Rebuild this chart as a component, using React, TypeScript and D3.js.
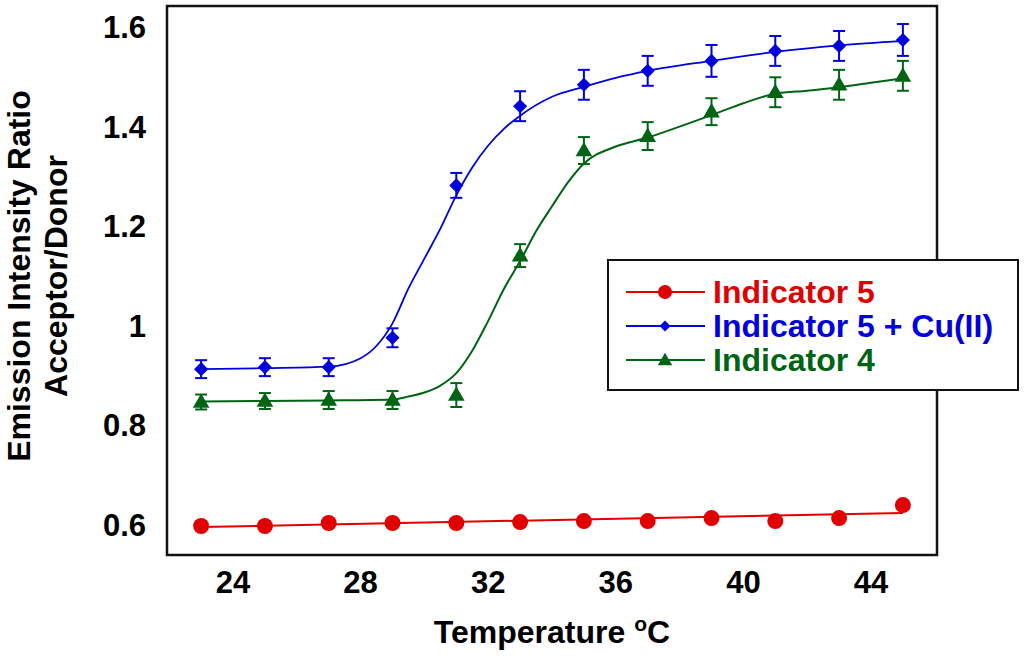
import { useEffect, useRef } from 'react';
import * as d3 from 'd3';

// measured data (temperature in °C, emission intensity ratio acceptor/donor)
const temps = [23, 25, 27, 29, 31, 33, 35, 37, 39, 41, 43, 45];
const ind5 = [0.598, 0.598, 0.604, 0.604, 0.604, 0.606, 0.608, 0.608, 0.614, 0.608, 0.614, 0.64];
const ind5Cu = [0.913, 0.917, 0.917, 0.976, 1.282, 1.441, 1.484, 1.512, 1.532, 1.552, 1.562, 1.574];
const ind5CuErr = [0.018, 0.018, 0.018, 0.019, 0.025, 0.03, 0.03, 0.03, 0.032, 0.03, 0.03, 0.032];
const ind4 = [0.847, 0.849, 0.851, 0.851, 0.861, 1.141, 1.352, 1.381, 1.43, 1.469, 1.484, 1.502];
const ind4Err = [0.015, 0.016, 0.018, 0.018, 0.024, 0.023, 0.027, 0.028, 0.027, 0.03, 0.03, 0.03];

// fitted curves
const fit5X = [23, 45];
const fit5Y = [0.596, 0.624];
const fit5CuX = [23, 25, 27, 28, 28.5, 29, 29.5, 30, 30.5, 31, 31.5, 32, 32.5, 33, 34, 35, 36, 37, 39, 41, 43, 45];
const fit5CuY = [0.913, 0.915, 0.918, 0.935, 0.96, 1.005, 1.075, 1.135, 1.195, 1.262, 1.318, 1.362, 1.396, 1.422, 1.46, 1.48, 1.498, 1.512, 1.532, 1.55, 1.563, 1.572];
const fit4X = [23, 25, 27, 29, 29.5, 30, 30.5, 31, 31.5, 32, 32.5, 33, 33.5, 34, 34.5, 35, 36, 37, 38, 39, 40, 41, 42, 43, 44, 45];
const fit4Y = [0.848, 0.849, 0.85, 0.852, 0.858, 0.866, 0.88, 0.905, 0.95, 1.01, 1.075, 1.13, 1.19, 1.24, 1.288, 1.326, 1.36, 1.378, 1.4, 1.423, 1.447, 1.466, 1.472, 1.479, 1.488, 1.497];

const xTicks = [24, 28, 32, 36, 40, 44];
const yTicks = [0.6, 0.8, 1, 1.2, 1.4, 1.6];

const legendLabels = ['Indicator 5', 'Indicator 5 + Cu(II)', 'Indicator 4'];
const RED = '#e00000';
const BLUE = '#0000dd';
const GREEN = '#006414';

export default function App() {
	const ref = useRef<SVGSVGElement | null>(null);

	useEffect(() => {
		if (!ref.current) return;
		const svg = d3.select(ref.current);
		svg.selectAll('*').remove();

		const left = 167, right = 937, top = 6, bottom = 555;
		const x = d3.scaleLinear().domain([21.93, 46.07]).range([left, right]);
		const y = d3.scaleLinear().domain([0.5398, 1.6422]).range([bottom, top]);
		const font = '"Liberation Sans", Arial, sans-serif';

		// tick labels
		svg.append('g')
			.selectAll('text')
			.data(xTicks)
			.join('text')
			.attr('x', d => x(d))
			.attr('y', 593)
			.attr('text-anchor', 'middle')
			.attr('font-family', font)
			.attr('font-weight', 'bold')
			.attr('font-size', 31)
			.text(d => d);

		svg.append('g')
			.selectAll('text')
			.data(yTicks)
			.join('text')
			.attr('x', 146)
			.attr('y', d => y(d) + 11)
			.attr('text-anchor', 'end')
			.attr('font-family', font)
			.attr('font-weight', 'bold')
			.attr('font-size', 31)
			.text(d => String(d));

		// axis titles
		const xt = svg.append('text')
			.attr('x', 552)
			.attr('y', 643)
			.attr('text-anchor', 'middle')
			.attr('font-family', font)
			.attr('font-weight', 'bold')
			.attr('font-size', 32);
		xt.append('tspan').text('Temperature ');
		xt.append('tspan').attr('font-size', 21).attr('dy', -12).text('o');
		xt.append('tspan').attr('dy', 12).text('C');

		const yt = svg.append('g').attr('transform', 'translate(0,276) rotate(-90)');
		yt.append('text')
			.attr('x', 0)
			.attr('y', 30)
			.attr('text-anchor', 'middle')
			.attr('font-family', font)
			.attr('font-weight', 'bold')
			.attr('font-size', 32)
			.text('Emission Intensity Ratio');
		yt.append('text')
			.attr('x', 0)
			.attr('y', 67)
			.attr('text-anchor', 'middle')
			.attr('font-family', font)
			.attr('font-weight', 'bold')
			.attr('font-size', 32)
			.text('Acceptor/Donor');

		// fit lines
		const line = d3.line<[number, number]>()
			.x(d => x(d[0]))
			.y(d => y(d[1]))
			.curve(d3.curveMonotoneX);
		const fits: [number[], number[], string, number][] = [
			[fit5X, fit5Y, RED, 2],
			[fit5CuX, fit5CuY, BLUE, 1.8],
			[fit4X, fit4Y, GREEN, 2],
		];
		fits.forEach(([fx, fy, color, w]) => {
			svg.append('path')
				.datum(fx.map((v, i) => [v, fy[i]] as [number, number]))
				.attr('fill', 'none')
				.attr('stroke', color)
				.attr('stroke-width', w)
				.attr('d', line);
		});

		// error bars
		const errSets: [number[], number[], string][] = [
			[ind5Cu, ind5CuErr, BLUE],
			[ind4, ind4Err, GREEN],
		];
		errSets.forEach(([vals, errs, color]) => {
			const g = svg.append('g').attr('stroke', color).attr('stroke-width', 2).attr('fill', 'none');
			temps.forEach((t, i) => {
				const cx = x(t);
				const y1 = y(vals[i] + errs[i]);
				const y2 = y(vals[i] - errs[i]);
				g.append('line').attr('x1', cx).attr('x2', cx).attr('y1', y1).attr('y2', y2);
				g.append('line').attr('x1', cx - 6).attr('x2', cx + 6).attr('y1', y1).attr('y2', y1);
				g.append('line').attr('x1', cx - 6).attr('x2', cx + 6).attr('y1', y2).attr('y2', y2);
			});
		});

		// markers
		const diamond = d3.symbol().type(d3.symbolSquare).size(100)();
		const tri = d3.symbol().type(d3.symbolTriangle).size(120)();
		svg.append('g')
			.selectAll('circle')
			.data(temps)
			.join('circle')
			.attr('cx', d => x(d))
			.attr('cy', (d, i) => y(ind5[i]))
			.attr('r', 8)
			.attr('fill', RED);
		svg.append('g')
			.selectAll('path')
			.data(temps)
			.join('path')
			.attr('d', diamond)
			.attr('transform', (d, i) => `translate(${x(d)},${y(ind5Cu[i])}) rotate(45)`)
			.attr('fill', BLUE);
		svg.append('g')
			.selectAll('path')
			.data(temps)
			.join('path')
			.attr('d', tri)
			.attr('transform', (d, i) => `translate(${x(d)},${y(ind4[i]) + 1})`)
			.attr('fill', GREEN);

		// frame
		svg.append('rect')
			.attr('x', left)
			.attr('y', top)
			.attr('width', right - left)
			.attr('height', bottom - top)
			.attr('fill', 'none')
			.attr('stroke', '#111')
			.attr('stroke-width', 2.5);

		// legend
		const lg = svg.append('g');
		lg.append('rect')
			.attr('x', 608)
			.attr('y', 260)
			.attr('width', 410)
			.attr('height', 130)
			.attr('fill', 'white')
			.attr('stroke', '#111')
			.attr('stroke-width', 2);
		const colors = [RED, BLUE, GREEN];
		legendLabels.forEach((label, i) => {
			const cy = 292 + i * 34;
			lg.append('line')
				.attr('x1', 626).attr('x2', 705)
				.attr('y1', cy).attr('y2', cy)
				.attr('stroke', colors[i])
				.attr('stroke-width', 2);
			if (i === 0) {
				lg.append('circle').attr('cx', 665).attr('cy', cy).attr('r', 7).attr('fill', RED);
			} else if (i === 1) {
				lg.append('path')
					.attr('d', d3.symbol().type(d3.symbolSquare).size(60)())
					.attr('transform', `translate(665,${cy}) rotate(45)`)
					.attr('fill', BLUE);
			} else {
				lg.append('path')
					.attr('d', d3.symbol().type(d3.symbolTriangle).size(90)())
					.attr('transform', `translate(665,${cy + 1})`)
					.attr('fill', GREEN);
			}
			lg.append('text')
				.attr('x', 713)
				.attr('y', cy + 11)
				.attr('font-family', font)
				.attr('font-weight', 'bold')
				.attr('font-size', 32)
				.attr('fill', colors[i])
				.text(label);
		});
	}, []);

	return (
		<svg
			ref={ref}
			width={1024}
			height={657}
			style={{ position: 'absolute', left: 0, top: 0, background: 'white' }}
		/>
	);
}
